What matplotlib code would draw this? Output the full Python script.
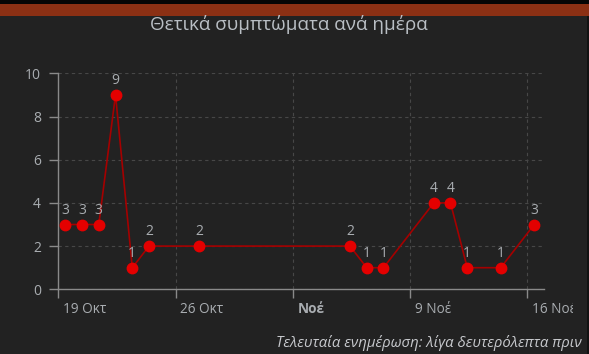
import matplotlib
matplotlib.use("Agg")
import matplotlib.pyplot as plt
import matplotlib.transforms as mtransforms
from matplotlib.patches import Rectangle
import pandas as pd

plt.rcParams['font.family'] = ['Open Sans', 'Noto Sans', 'DejaVu Sans']

# Daily positive cases
days = ["2020-10-19", "2020-10-20", "2020-10-21", "2020-10-22", "2020-10-23",
        "2020-10-24", "2020-10-27", "2020-11-05", "2020-11-06", "2020-11-07",
        "2020-11-10", "2020-11-11", "2020-11-12", "2020-11-14", "2020-11-16"]
cases = [3, 3, 3, 9, 1, 2, 2, 2, 1, 1, 4, 4, 1, 1, 3]

tick_days = ["2020-10-19", "2020-10-26", "2020-11-02", "2020-11-09", "2020-11-16"]
tick_labels = ["19 Οκτ", "26 Οκτ", "Νοέ", "9 Νοέ", "16 Νοέ"]
y_ticks = [0, 2, 4, 6, 8, 10]

title = "Θετικά συμπτώματα ανά ημέρα"
footnote = "Τελευταία ενημέρωση: λίγα δευτερόλεπτα πριν"

BG = "#222222"
AXIS = "#8a8a8a"
GRID = "#474747"
TEXT = "#a9adb1"
LINE = "#a50000"
MARK = "#e40000"

# reports are logged during the day, not at midnight
x = pd.to_datetime(days) + pd.Timedelta(hours=10)
xt = pd.to_datetime(tick_days)

fig = plt.figure(figsize=(5.89, 3.54), dpi=100, facecolor=BG)

# header strip and right border
fig.patches.append(Rectangle((0, 1 - 16 / 354), 1, 16 / 354, transform=fig.transFigure,
                             facecolor="#8b3014", edgecolor="none", zorder=0))
fig.patches.append(Rectangle((0, 1 - 3.5 / 354), 1, 3.5 / 354, transform=fig.transFigure,
                             facecolor="#050505", edgecolor="none", zorder=1))
fig.patches.append(Rectangle((1 - 2 / 589, 0), 2 / 589, 1 - 16 / 354, transform=fig.transFigure,
                             facecolor="#121212", edgecolor="none", zorder=1))

ax = fig.add_axes([58.3 / 589, 64.7 / 354, (544 - 58.3) / 589, (289.3 - 73.3) / 354])
ax.set_facecolor(BG)

ax.plot(x, cases, color=LINE, lw=1.2, zorder=3)
ax.plot(x, cases, ls="none", marker="o", ms=7.5, color=MARK, mec=MARK, zorder=4)

for xi, yi in zip(x, cases):
    ax.annotate(str(yi), (xi, yi), xytext=(0, 5), textcoords="offset points",
                ha="center", va="bottom", fontsize=10, color=TEXT, zorder=5)

ax.set_xlim(pd.Timestamp("2020-10-19"), pd.Timestamp("2020-10-19") + pd.Timedelta(days=29))
ax.set_ylim(0, 10)

ax.set_yticks(y_ticks)
ax.set_yticklabels([str(v) for v in y_ticks])
ax.set_xticks(xt)
ax.set_xticklabels(tick_labels)

for s in ["top", "right"]:
    ax.spines[s].set_visible(False)
for s in ["left", "bottom"]:
    ax.spines[s].set_color(AXIS)
    ax.spines[s].set_linewidth(1.0)

ax.tick_params(axis="y", length=6.5, width=1.0, color=AXIS, labelcolor=TEXT,
               labelsize=10, pad=6)
ax.tick_params(axis="x", length=6.5, width=1.0, color=AXIS, labelcolor=TEXT,
               labelsize=9.8, pad=3)

ax.grid(True, color=GRID, ls=(0, (3, 3)), lw=0.8, zorder=1)
ax.set_axisbelow(True)

fig.text(289 / 589, 1 - 25 / 354, title, ha="center", va="center",
         fontsize=13.6, color="#b9bec4")
fig.text(582 / 589, 1 - 343 / 354, footnote, ha="right", va="center",
         fontsize=10.7, color="#c8cace", style="italic")

fig.canvas.draw()

# date labels sit just right of their ticks; the last one runs off the panel edge
offset = mtransforms.ScaledTranslation(4.5 / 100, 0, fig.dpi_scale_trans)
edge = Rectangle((0, 0), 573 / 589, 1, transform=fig.transFigure)
for lab, txt in zip(ax.get_xticklabels(), tick_labels):
    lab.set_horizontalalignment("left")
    lab.set_transform(lab.get_transform() + offset)
    if txt == "Νοέ":
        lab.set_fontweight("bold")
    lab.set_clip_path(edge)
    lab.set_clip_on(True)

fig.savefig("out.png", dpi=100, facecolor=BG)
